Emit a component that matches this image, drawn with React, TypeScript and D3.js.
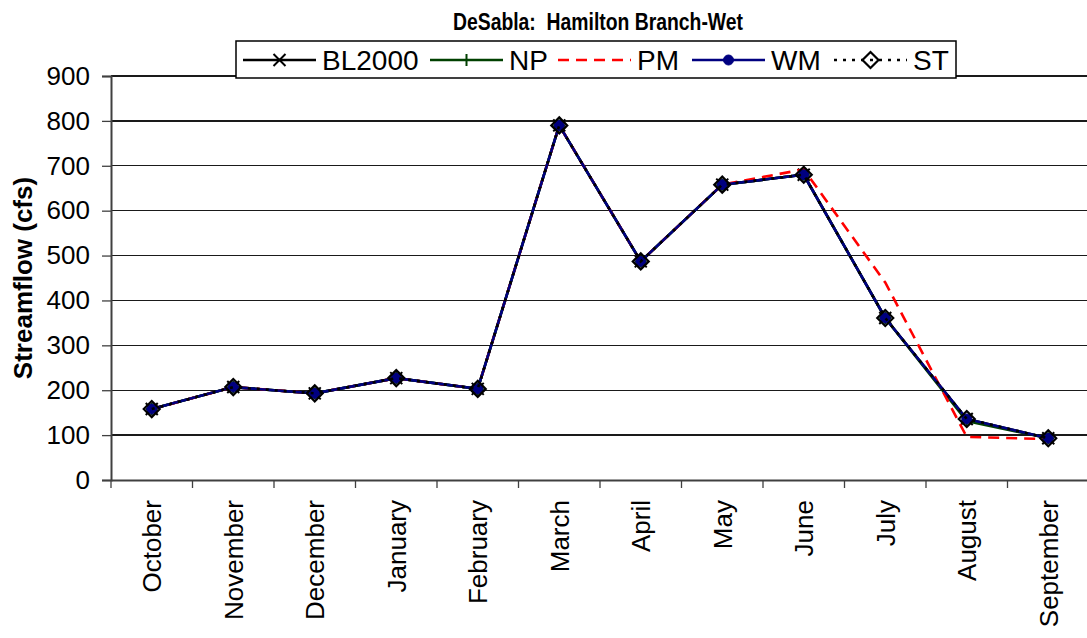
import React, { useEffect, useRef } from 'react';
import * as d3 from 'd3';

const months = ['October', 'November', 'December', 'January', 'February', 'March', 'April', 'May', 'June', 'July', 'August', 'September'];
const yTicks = [0, 100, 200, 300, 400, 500, 600, 700, 800, 900];

const bl2000 = [158, 207, 193, 227, 203, 790, 487, 658, 680, 361, 136, 93];
const np = [158, 207, 193, 227, 203, 790, 487, 658, 680, 361, 131, 93];
const pm = [158, 207, 193, 227, 203, 790, 487, 658, 692, 440, 96, 91];
const wm = [158, 207, 193, 227, 203, 790, 487, 658, 680, 361, 136, 93];
const st = [158, 207, 193, 227, 203, 790, 487, 658, 680, 361, 136, 93];

interface seriesDef {
    name: string,
    values: number[],
    color: string,
    dash: string | null,
    marker: string,
}

const series: seriesDef[] = [
    { name: 'BL2000', values: bl2000, color: '#000000', dash: null, marker: 'x' },
    { name: 'NP', values: np, color: '#004000', dash: null, marker: 'plus' },
    { name: 'PM', values: pm, color: '#FF0000', dash: '11,7', marker: 'none' },
    { name: 'WM', values: wm, color: '#000080', dash: null, marker: 'circle' },
    { name: 'ST', values: st, color: '#000000', dash: '3,6', marker: 'diamond' },
];

const width = 1087;
const height = 638;
const font = '"Liberation Sans", Arial, sans-serif';

function drawMarker(g: any, kind: string, x: number, y: number, color: string) {
    if (kind === 'x') {
        g.append('path')
            .attr('d', `M${x - 6},${y - 6}L${x + 6},${y + 6}M${x - 6},${y + 6}L${x + 6},${y - 6}`)
            .attr('stroke', color).attr('stroke-width', 2).attr('fill', 'none');
    } else if (kind === 'plus') {
        g.append('path')
            .attr('d', `M${x - 6},${y}L${x + 6},${y}M${x},${y - 6}L${x},${y + 6}`)
            .attr('stroke', color).attr('stroke-width', 2).attr('fill', 'none');
    } else if (kind === 'circle') {
        g.append('circle')
            .attr('cx', x).attr('cy', y).attr('r', 5)
            .attr('fill', color).attr('stroke', color).attr('stroke-width', 1);
    } else if (kind === 'diamond') {
        g.append('path')
            .attr('d', `M${x},${y - 8}L${x + 8},${y}L${x},${y + 8}L${x - 8},${y}Z`)
            .attr('stroke', color).attr('stroke-width', 2.2).attr('fill', 'none');
    }
}

export default function App() {
    const ref = useRef(null);

    useEffect(() => {
        const svg = d3.select(ref.current);
        svg.selectAll('*').remove();

        const marginLeft = 111;
        const step = 81.5;
        const x = d3.scaleBand()
            .domain(months)
            .range([marginLeft, marginLeft + step * months.length]);
        const y = d3.scaleLinear()
            .domain([0, 900])
            .range([480, 76]);

        // gridlines
        svg.append('g')
            .selectAll('line')
            .data(yTicks.filter(t => t > 0))
            .enter()
            .append('line')
            .attr('x1', marginLeft).attr('x2', width)
            .attr('y1', d => y(d)).attr('y2', d => y(d))
            .attr('stroke', '#1a1a1a').attr('stroke-width', 1.3)
            .attr('shape-rendering', 'crispEdges');

        // y axis
        const yAxis = svg.append('g')
            .attr('transform', `translate(${marginLeft}, 0)`)
            .call(d3.axisLeft(y).tickValues(yTicks).tickSize(9).tickPadding(12));
        yAxis.select('.domain').attr('stroke', '#404040').attr('stroke-width', 2);
        yAxis.selectAll('.tick line').attr('stroke', '#404040').attr('stroke-width', 1.3);
        yAxis.selectAll('text')
            .attr('font-family', font).attr('font-size', 26).attr('fill', '#000');

        // x axis
        const xAxis = svg.append('g')
            .attr('transform', `translate(0, ${y(0)})`)
            .call(d3.axisBottom(x).tickSize(0).tickPadding(0));
        xAxis.select('.domain').attr('stroke', '#404040').attr('stroke-width', 2);
        xAxis.selectAll('.tick text')
            .attr('font-family', font).attr('font-size', 26).attr('fill', '#000')
            .attr('transform', 'rotate(-90)')
            .attr('text-anchor', 'end')
            .attr('x', -20).attr('y', 0).attr('dy', '0.36em');
        svg.append('g')
            .selectAll('line')
            .data(months)
            .enter()
            .append('line')
            .attr('x1', d => x(d) as number).attr('x2', d => x(d) as number)
            .attr('y1', y(0)).attr('y2', y(0) + 8)
            .attr('stroke', '#404040').attr('stroke-width', 1.3);

        // series
        const line = d3.line<number>()
            .x((_d, i) => (x(months[i]) as number) + x.bandwidth() / 2)
            .y(d => y(d));

        series.forEach(s => {
            svg.append('path')
                .attr('d', line(s.values))
                .attr('fill', 'none')
                .attr('stroke', s.color)
                .attr('stroke-width', 2.6)
                .attr('stroke-dasharray', s.dash);
            const mg = svg.append('g');
            s.values.forEach((v, i) => {
                drawMarker(mg, s.marker, (x(months[i]) as number) + x.bandwidth() / 2, y(v), s.color);
            });
        });

        // title (narrow bold look)
        svg.append('text')
            .attr('x', 598).attr('y', 30)
            .attr('text-anchor', 'middle')
            .attr('font-family', font).attr('font-weight', 'bold').attr('font-size', 24)
            .attr('textLength', 290).attr('lengthAdjust', 'spacingAndGlyphs')
            .style('white-space', 'pre')
            .text('DeSabla:  Hamilton Branch-Wet');

        // y title
        svg.append('text')
            .attr('transform', `translate(32, 278) rotate(-90)`)
            .attr('text-anchor', 'middle')
            .attr('font-family', font).attr('font-weight', 'bold').attr('font-size', 26)
            .text('Streamflow (cfs)');

        // legend
        const legendX = [243, 430, 558, 692, 834];
        const lg = svg.append('g');
        lg.append('rect')
            .attr('x', 236).attr('y', 41).attr('width', 720).attr('height', 37)
            .attr('fill', '#fff').attr('stroke', '#000').attr('stroke-width', 1.5);
        series.forEach((s, i) => {
            const lx = legendX[i];
            const ly = 60;
            lg.append('line')
                .attr('x1', lx).attr('x2', lx + 73)
                .attr('y1', ly).attr('y2', ly)
                .attr('stroke', s.color).attr('stroke-width', 2.6)
                .attr('stroke-dasharray', s.dash);
            drawMarker(lg, s.marker, lx + 36.5, ly, s.color);
            lg.append('text')
                .attr('x', lx + 79).attr('y', ly + 10)
                .attr('font-family', font).attr('font-size', 28)
                .text(s.name);
        });
    }, []);

    return (
        <svg ref={ref} width={width} height={height} viewBox={`0 0 ${width} ${height}`}
            style={{ position: 'absolute', left: 0, top: 0, background: '#fff' }}>
        </svg>
    );
}
